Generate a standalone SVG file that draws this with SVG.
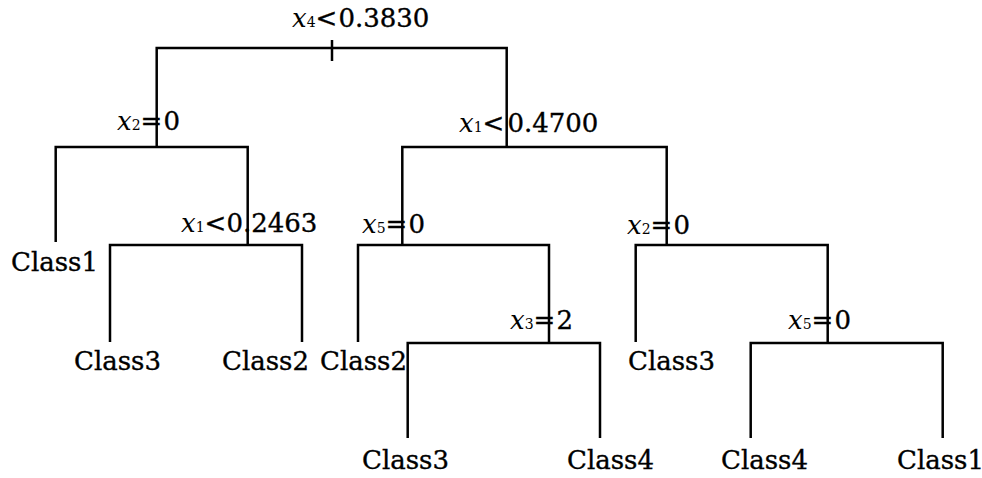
<svg xmlns="http://www.w3.org/2000/svg" width="982" height="478" viewBox="0 0 982 478">
  <style>
    text { font-family: "DejaVu Serif", "Liberation Serif", serif; font-size: 26px; fill: #000; stroke: #000; stroke-width: 0.35; }
    .v { font-style: italic; stroke: none; }
    .s { font-size: 14px; stroke: none; }
    .edge { fill: none; stroke: #000; stroke-width: 2.5; stroke-linejoin: miter; }
  </style>
  <rect width="982" height="478" fill="#fff"/>

  <!-- split conditions -->
  <g id="n-root">
    <text x="292" y="27"><tspan class="v">x</tspan><tspan class="s">4</tspan>&lt;<tspan dx="1">0.3830</tspan></text>
  </g>
  <g id="n-x2-left">
    <text x="117" y="130"><tspan class="v">x</tspan><tspan class="s">2</tspan>=<tspan dx="1">0</tspan></text>
  </g>
  <g id="n-x1-right">
    <text x="459" y="132"><tspan class="v">x</tspan><tspan class="s">1</tspan>&lt;<tspan dx="3">0.4700</tspan></text>
  </g>
  <g id="n-x1-left">
    <text x="181" y="232"><tspan class="v">x</tspan><tspan class="s">1</tspan>&lt;<tspan>0.2463</tspan></text>
  </g>
  <g id="n-x5-mid">
    <text x="362" y="233"><tspan class="v">x</tspan><tspan class="s">5</tspan>=<tspan dx="1">0</tspan></text>
  </g>
  <g id="n-x2-right">
    <text x="627" y="234"><tspan class="v">x</tspan><tspan class="s">2</tspan>=<tspan dx="1">0</tspan></text>
  </g>
  <g id="n-x3">
    <text x="510" y="329"><tspan class="v">x</tspan><tspan class="s">3</tspan>=<tspan dx="1">2</tspan></text>
  </g>
  <g id="n-x5-right">
    <text x="788" y="329"><tspan class="v">x</tspan><tspan class="s">5</tspan>=<tspan dx="1">0</tspan></text>
  </g>

  <!-- leaves -->
  <g id="leaf-1"><text x="11" y="271">Class1</text></g>
  <g id="leaf-2"><text x="74" y="370">Class3</text></g>
  <g id="leaf-3"><text x="222" y="370">Class2</text></g>
  <g id="leaf-4"><text x="320" y="370">Class2</text></g>
  <g id="leaf-5"><text x="628" y="370">Class3</text></g>
  <g id="leaf-6"><text x="362" y="469">Class3</text></g>
  <g id="leaf-7"><text x="567" y="469">Class4</text></g>
  <g id="leaf-8"><text x="721" y="469">Class4</text></g>
  <g id="leaf-9"><text x="897" y="469">Class1</text></g>

  <!-- branches -->
  <g id="connectors">
    <path class="edge" d="M156.7,147 V48 H506.7 V147"/>
    <path class="edge" d="M332,40 V61"/>
    <path class="edge" d="M55.7,242 V147 H247.7 V245"/>
    <path class="edge" d="M110,342 V245 H302 V342"/>
    <path class="edge" d="M402.3,245 V147 H666.7 V245"/>
    <path class="edge" d="M358,342 V245 H549 V343"/>
    <path class="edge" d="M407.7,438 V343 H600 V438"/>
    <path class="edge" d="M635.7,342 V245 H827.7 V343"/>
    <path class="edge" d="M750.7,438 V343 H942.7 V438"/>
  </g>
</svg>
